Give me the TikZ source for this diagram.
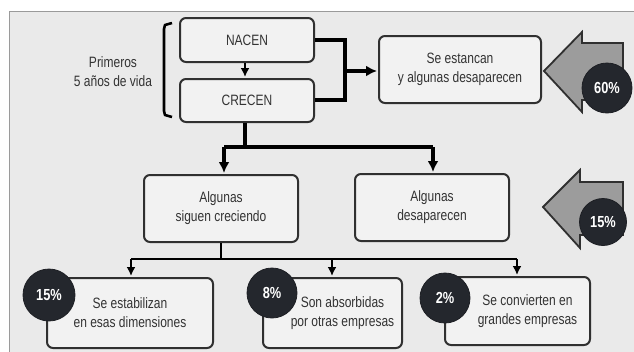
\documentclass[tikz,border=0pt]{standalone}
\usepackage{fontspec}
\setmainfont{Liberation Sans}[FakeStretch=0.8]
\newfontfamily\circfont{Liberation Sans}[FakeStretch=0.8]
\usetikzlibrary{arrows.meta}
\definecolor{bgfill}{HTML}{EAEAEA}
\definecolor{framec}{HTML}{9A9A9A}
\definecolor{boxline}{HTML}{303030}
\definecolor{txtc}{HTML}{333333}
\definecolor{circfill}{HTML}{24272D}
\definecolor{arrowfill}{HTML}{9C9C9C}
\tikzset{
  box/.style={draw=boxline, line width=2pt, rounded corners=6pt, fill=bgfill!60!white, inner sep=0pt, align=center, text=txtc, font=\fontsize{15}{19}\selectfont},
  txt/.style={align=center, text=txtc, font=\fontsize{15}{19}\selectfont, inner sep=0pt},
  conn/.style={draw=black, line width=3.4pt},
  connb/.style={draw=black, line width=2.8pt},
  arr/.style={conn, -{Latex[length=11pt,width=11pt]}, shorten >=1pt},
  arrb/.style={connb, -{Latex[length=9pt,width=9pt]}, shorten >=1pt},
  pct/.style={circle, fill=circfill, draw=circfill!80!black, line width=0.8pt, text=white, font=\circfont\bfseries\fontsize{16}{16}\selectfont, inner sep=0pt},
  bigarrow/.style={fill=arrowfill, draw=boxline, line width=1.8pt, line join=miter}
}
\begin{document}
\begin{tikzpicture}[x=1pt,y=-1pt]
\useasboundingbox (0,0) rectangle (634,351);
\fill[white] (0,0) rectangle (634,351);
\filldraw[fill=bgfill, draw=framec, line width=1pt] (9,11) rectangle (640,360);

% left label and bracket
\node[txt] (lbl) at (113,72) {Primeros\\5 años de vida};
\draw[conn, line width=2.6pt, line join=round] (172,23) -- (165,25) -- (164,29) -- (164,111) -- (165,115) -- (172,117);

% boxes
\node[box, minimum width=134pt, minimum height=44pt] (nacen) at (247,40) {NACEN};
\node[box, minimum width=134pt, minimum height=43pt] (crecen) at (247,100.5) {CRECEN};
\node[box, minimum width=162pt, minimum height=67pt] (estancan) at (460,69.5) {Se estancan\\y algunas desaparecen};
\node[box, minimum width=154pt, minimum height=67pt] (siguen) at (221,208.5) {Algunas\\siguen creciendo};
\node[box, minimum width=154pt, minimum height=67pt] (desap) at (432,207.5) {Algunas\\desaparecen};
\node[box, minimum width=166pt, minimum height=70pt] (b1) at (130,313) {Se estabilizan\\en esas dimensiones};
\node[box, minimum width=139pt, minimum height=70pt] (b2) at (332.5,313) {};
\node[txt] (b2t) at ([xshift=10pt]b2.center) {Son absorbidas\\por otras empresas};
\node[box, minimum width=145pt, minimum height=68pt] (b3) at (517.5,311) {};
\node[txt] (b3t) at ([xshift=10pt]b3.center) {Se convierten en\\grandes empresas};

% connectors
\draw[arrb] ([xshift=-2pt]nacen.south) -- ([xshift=-2pt]crecen.north);
\coordinate (r1) at (345,40);
\coordinate (r2) at (345,100);
\coordinate (rm) at (345,71);
\draw[conn, line join=miter] (nacen.east |- r1) -- (r1) -- (r2) -- (crecen.east |- r2);
\draw[arr] (rm) -- (estancan.west |- rm);

\coordinate (j1) at (245,147);
\draw[conn] ([xshift=-2pt]crecen.south) -- (j1);
\coordinate (j1l) at (224,147);
\coordinate (j1r) at (433,147);
\draw[conn, line join=miter] (j1l) -- (j1r);
\draw[arr] (j1l) -- (j1l |- siguen.north);
\draw[arr] (j1r) -- (j1r |- desap.north);

\coordinate (j2) at (221,259);
\coordinate (j2l) at (131,259);
\coordinate (j2m) at (332,259);
\coordinate (j2r) at (517,259);
\draw[connb] (siguen.south) -- (j2);
\draw[connb] (j2l) -- (j2r);
\draw[arrb] (j2l) -- (j2l |- b1.north);
\draw[arrb] (j2m) -- (j2m |- b2.north);
\draw[arrb] (j2r) -- (j2r |- b3.north);

% big arrows
\draw[bigarrow] (544,71) -- (582,32) -- (582,43) -- (623,43) -- (623,100) -- (582,100) -- (582,112) -- cycle;
\draw[bigarrow] (543,207) -- (580,170) -- (580,182) -- (623,182) -- (623,235) -- (580,235) -- (580,248) -- cycle;

% percentage circles
\node[pct, minimum size=50pt] (c60) at (607,88) {60\%};
\node[pct, minimum size=47pt] (c15a) at (603,222) {15\%};
\node[pct, minimum size=52pt] (c15) at (49,295) {15\%};
\node[pct, minimum size=50pt] (c8) at (272,293) {8\%};
\node[pct, minimum size=50pt] (c2) at (445,298) {2\%};
\end{tikzpicture}
\end{document}
